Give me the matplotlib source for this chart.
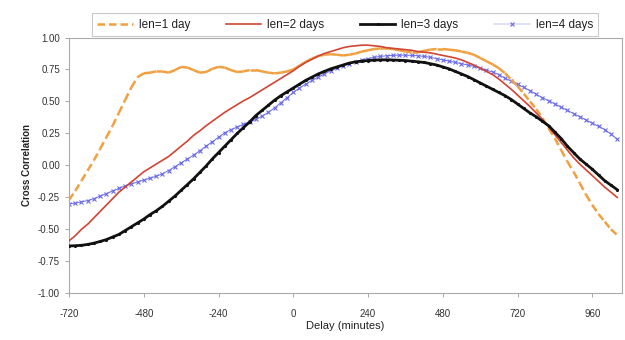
import matplotlib
matplotlib.use("Agg")
import matplotlib.pyplot as plt
import numpy as np
from matplotlib.collections import LineCollection
from matplotlib.lines import Line2D

plt.rcParams['font.family'] = ['Liberation Sans', 'DejaVu Sans']

# delay in minutes, one sample every 20 min
delay = list(range(-720, 1041, 20))

len1 = [-0.27, -0.20, -0.12, -0.04, 0.04, 0.13, 0.22, 0.31, 0.41, 0.51,
        0.61, 0.69, 0.72, 0.725, 0.735, 0.735, 0.725, 0.745, 0.77, 0.765,
        0.745, 0.725, 0.73, 0.755, 0.77, 0.765, 0.745, 0.73, 0.735, 0.745,
        0.745, 0.735, 0.725, 0.72, 0.725, 0.735, 0.75, 0.78, 0.81, 0.835,
        0.855, 0.865, 0.87, 0.865, 0.86, 0.865, 0.875, 0.89, 0.90, 0.91,
        0.915, 0.915, 0.91, 0.90, 0.89, 0.885, 0.885, 0.895, 0.905, 0.91,
        0.91, 0.905, 0.90, 0.89, 0.88, 0.865, 0.84, 0.815, 0.79, 0.76,
        0.72, 0.67, 0.62, 0.56, 0.50, 0.44, 0.37, 0.29, 0.21, 0.12,
        0.03, -0.05, -0.14, -0.23, -0.31, -0.38, -0.44, -0.50, -0.545]

len2 = [-0.59, -0.55, -0.50, -0.46, -0.41, -0.36, -0.31, -0.26, -0.21, -0.17,
        -0.13, -0.09, -0.05, -0.02, 0.01, 0.04, 0.07, 0.11, 0.15, 0.19,
        0.235, 0.27, 0.31, 0.345, 0.38, 0.415, 0.445, 0.475, 0.505, 0.53,
        0.56, 0.59, 0.62, 0.65, 0.68, 0.71, 0.74, 0.775, 0.805, 0.83,
        0.855, 0.875, 0.89, 0.905, 0.92, 0.93, 0.935, 0.94, 0.94, 0.935,
        0.93, 0.92, 0.915, 0.91, 0.905, 0.90, 0.89, 0.885, 0.88, 0.87,
        0.86, 0.85, 0.84, 0.825, 0.805, 0.785, 0.76, 0.735, 0.71, 0.675,
        0.635, 0.595, 0.55, 0.505, 0.46, 0.41, 0.36, 0.30, 0.24, 0.18,
        0.12, 0.06, 0.01, -0.035, -0.08, -0.125, -0.17, -0.21, -0.25]

len3 = [-0.63, -0.628, -0.625, -0.618, -0.608, -0.595, -0.58, -0.56, -0.54, -0.51,
        -0.48, -0.45, -0.42, -0.385, -0.355, -0.32, -0.28, -0.24, -0.195, -0.15,
        -0.105, -0.055, -0.005, 0.05, 0.10, 0.15, 0.20, 0.25, 0.295, 0.34,
        0.39, 0.43, 0.47, 0.51, 0.545, 0.575, 0.605, 0.635, 0.665, 0.69,
        0.715, 0.735, 0.755, 0.77, 0.785, 0.80, 0.81, 0.815, 0.82, 0.823,
        0.825, 0.825, 0.824, 0.822, 0.82, 0.815, 0.81, 0.805, 0.795, 0.785,
        0.77, 0.755, 0.735, 0.715, 0.695, 0.67, 0.645, 0.62, 0.595, 0.57,
        0.545, 0.515, 0.48, 0.445, 0.41, 0.38, 0.345, 0.31, 0.26, 0.21,
        0.15, 0.10, 0.05, 0.01, -0.03, -0.075, -0.12, -0.155, -0.19]

len4 = [-0.30, -0.295, -0.285, -0.275, -0.26, -0.24, -0.22, -0.20, -0.18, -0.16,
        -0.145, -0.13, -0.115, -0.10, -0.085, -0.065, -0.04, -0.01, 0.02, 0.05,
        0.08, 0.115, 0.15, 0.185, 0.22, 0.255, 0.28, 0.30, 0.32, 0.34,
        0.36, 0.385, 0.415, 0.45, 0.49, 0.53, 0.57, 0.605, 0.635, 0.665,
        0.69, 0.715, 0.74, 0.76, 0.78, 0.795, 0.81, 0.825, 0.835, 0.845,
        0.852, 0.857, 0.86, 0.862, 0.862, 0.86, 0.857, 0.852, 0.845, 0.835,
        0.825, 0.815, 0.805, 0.795, 0.785, 0.775, 0.76, 0.745, 0.73, 0.71,
        0.68, 0.66, 0.635, 0.61, 0.585, 0.555, 0.53, 0.505, 0.48, 0.455,
        0.43, 0.405, 0.38, 0.355, 0.33, 0.305, 0.28, 0.245, 0.205]

labels = ['len=1 day', 'len=2 days', 'len=3 days', 'len=4 days']
xticks = [-720, -480, -240, 0, 240, 480, 720, 960]
yticks = [-1.0, -0.75, -0.5, -0.25, 0.0, 0.25, 0.5, 0.75, 1.0]

c_orange = '#F0A040'
c_red = '#D04535'
c_black = '#111111'
c_blue = '#6A6AE8'

fig = plt.figure(figsize=(6.25, 3.4), dpi=100)
ax = fig.add_axes([0.1104, 0.1374, 0.8846, 0.7523])

# blue first so the others sit on top
ax.plot(delay, len4, color=c_blue, lw=0.7, marker='x', ms=3, mew=0.8, zorder=2)

# dashed line drawn segment by segment (dash restarts each point, like Excel)
pts = np.column_stack([delay, len1])
segs = np.stack([pts[:-1], pts[1:]], axis=1)
lc = LineCollection(segs, colors=c_orange, linewidths=1.8,
                    linestyles=[(0, (3.0, 1.6))], capstyle='butt', zorder=3)
ax.add_collection(lc)

ax.plot(delay, len2, color=c_red, lw=1.2, zorder=4)
ax.plot(delay, len3, color=c_black, lw=2.0, marker='.', ms=2.5, zorder=5)

ax.set_xlim(-720, 1055)
ax.set_ylim(-1.0, 1.0)
ax.set_xticks(xticks)
ax.set_xticklabels([str(t) for t in xticks])
ax.set_yticks(yticks)
ax.set_yticklabels(['%.2f' % t for t in yticks])
ax.tick_params(axis='both', labelsize=7, colors='#333333', length=3,
               width=0.6, color='#999999')
ax.tick_params(axis='x', pad=8)
for s in ax.spines.values():
    s.set_color('#AAAAAA')
    s.set_linewidth(0.8)

ax.set_xlabel('Delay (minutes)', fontsize=8, color='#222222', labelpad=2)
ax.set_ylabel('Cross Correlation', fontsize=7, fontweight='bold',
              color='#222222', labelpad=4)

handles = [
    Line2D([], [], color=c_orange, lw=1.8, ls=(0, (3.0, 1.6))),
    Line2D([], [], color=c_red, lw=1.2),
    Line2D([], [], color=c_black, lw=2.0, marker='.', ms=2.5),
    Line2D([], [], color=c_blue, lw=0.3, marker='x', ms=3, mew=0.8),
]
leg = fig.legend(handles, labels, ncol=4, mode='expand',
                 bbox_to_anchor=(0.147, 0.894, 0.81, 0.082), loc='lower left',
                 fontsize=8.5, frameon=True, fancybox=False, borderaxespad=0,
                 handlelength=3.0, handletextpad=0.5, borderpad=0.45)
leg.get_frame().set_edgecolor('#BBBBBB')
leg.get_frame().set_linewidth(0.8)
for t in leg.get_texts():
    t.set_color('#222222')

fig.savefig('out.png', dpi=100)
